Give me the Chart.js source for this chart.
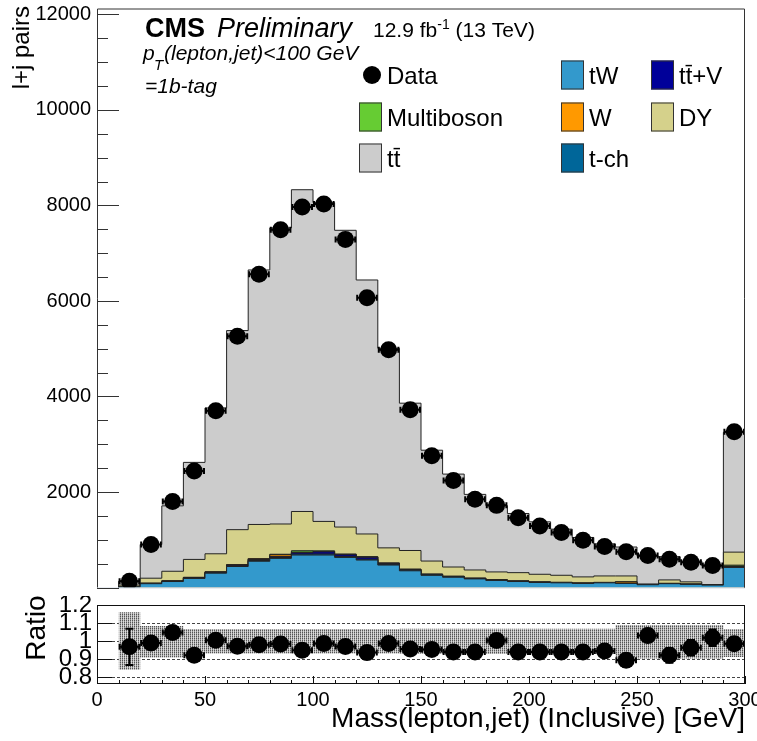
<!DOCTYPE html>
<html>
<head>
<meta charset="utf-8">
<script src="https://cdn.jsdelivr.net/npm/chart.js@4.4.1/dist/chart.umd.min.js"></script>
<style>
  html, body { margin: 0; padding: 0; background: #fff; }
  #wrap { position: relative; width: 757px; height: 741px; overflow: hidden; }
  #main { position: absolute; left: 0; top: 0; }
  #ratio { position: absolute; left: 0; top: 596px; }
</style>
</head>
<body>
<div id="wrap">
  <canvas id="main" width="757" height="596"></canvas>
  <canvas id="ratio" width="757" height="145"></canvas>
</div>
<script>
// bins (lower edges, GeV) - last bin holds the overflow
const binLow = [10, 20, 30, 40, 50, 60, 70, 80, 90, 100, 110, 120, 130, 140, 150, 160, 170, 180, 190, 200, 210, 220, 230, 240, 250, 260, 270, 280, 290];
const binWidth = 10;

const dataObs = [130, 900, 1800, 2440, 3700, 5260, 6560, 7490, 7970, 8030, 7290, 6070, 4980, 3720, 2760, 2240, 1850, 1720, 1460, 1290, 1150, 990, 860, 750, 670, 590, 530, 460, 3260];

// MC stack, bottom to top
const tW = [15, 80, 125, 190, 300, 440, 550, 610, 680, 680, 630, 575, 470, 350, 255, 215, 180, 148, 125, 105, 98, 85, 98, 85, 58, 80, 65, 50, 420];
const tChan = [2, 4, 6, 8, 10, 12, 15, 18, 20, 22, 20, 18, 15, 12, 10, 8, 6, 5, 5, 4, 4, 3, 3, 3, 2, 2, 2, 2, 10];
const ttV = [1, 3, 5, 8, 10, 15, 20, 25, 30, 45, 35, 40, 20, 15, 10, 8, 6, 5, 4, 4, 3, 3, 3, 2, 2, 2, 2, 1, 10];
const wJets = [1, 2, 3, 5, 8, 10, 15, 35, 10, 10, 8, 6, 5, 4, 3, 3, 2, 2, 2, 2, 2, 2, 2, 30, 2, 2, 2, 2, 8];
const multiboson = [0, 1, 1, 2, 3, 4, 6, 8, 30, 10, 8, 6, 4, 3, 3, 2, 2, 2, 2, 1, 1, 1, 1, 1, 1, 1, 1, 1, 20];
const dy = [31, 105, 200, 375, 375, 730, 714, 634, 822, 617, 565, 476, 316, 391, 273, 193, 171, 164, 173, 161, 148, 128, 135, 121, 7, 72, 46, 1, 273];
const ttbar = [83, 705, 1370, 2032, 3054, 4169, 5330, 6200, 6738, 6676, 6214, 5319, 4180, 3085, 2321, 1946, 1583, 1389, 1239, 1098, 966, 826, 670, 606, 582, 484, 435, 396, 2509];

// ratio pad
const ratioVal = [0.969, 0.99, 1.048, 0.923, 1.005, 0.972, 0.98, 0.985, 0.95, 0.988, 0.971, 0.937, 0.987, 0.957, 0.954, 0.94, 0.94, 1.004, 0.94, 0.94, 0.94, 0.94, 0.946, 0.895, 1.032, 0.922, 0.964, 1.019, 0.986];
const ratioErr = [0.1, 0.035, 0.025, 0.02, 0.017, 0.014, 0.012, 0.012, 0.011, 0.011, 0.012, 0.013, 0.014, 0.016, 0.019, 0.021, 0.023, 0.024, 0.026, 0.028, 0.029, 0.032, 0.034, 0.036, 0.038, 0.041, 0.043, 0.046, 0.018];
const bandUp = [1.161, 1.085, 1.085, 1.068, 1.068, 1.068, 1.068, 1.068, 1.068, 1.068, 1.068, 1.068, 1.068, 1.07, 1.07, 1.07, 1.07, 1.07, 1.07, 1.07, 1.07, 1.07, 1.07, 1.09, 1.09, 1.09, 1.09, 1.09, 1.068];
const bandDown = [0.842, 0.91, 0.91, 0.932, 0.932, 0.932, 0.932, 0.932, 0.932, 0.932, 0.932, 0.932, 0.932, 0.93, 0.93, 0.93, 0.93, 0.93, 0.93, 0.93, 0.93, 0.93, 0.93, 0.905, 0.905, 0.905, 0.905, 0.905, 0.913];

// tick labels
const yTicksMain = [2000, 4000, 6000, 8000, 10000, 12000];
const xTicks = [0, 50, 100, 150, 200, 250, 300];
const ratioTicks = [0.8, 0.9, 1, 1.1, 1.2];

const FONT = '"Liberation Sans", Arial, Helvetica, sans-serif';

const layers = [
  { label: 'tW', values: tW, color: '#3399cc' },
  { label: 't-ch', values: tChan, color: '#006699' },
  { label: 'tt\u0304+V', values: ttV, color: '#000099' },
  { label: 'W', values: wJets, color: '#ff9900' },
  { label: 'Multiboson', values: multiboson, color: '#66cc33' },
  { label: 'DY', values: dy, color: '#d5d18b' },
  { label: 'tt\u0304', values: ttbar, color: '#cccccc' }
];

// histogram outline as stepped points on the bin edges
function stepPoints(vals, closeDown) {
  const last = binLow.length - 1;
  const pts = [{ x: binLow[0], y: closeDown ? 0 : vals[0] }];
  vals.forEach((v, i) => pts.push({ x: binLow[i], y: v }));
  pts.push({ x: binLow[last] + binWidth, y: vals[last] });
  if (closeDown) pts.push({ x: binLow[last] + binWidth, y: 0 });
  return pts;
}

let running = binLow.map(() => 0);
const stackSets = layers.map(l => {
  running = running.map((r, i) => r + l.values[i]);
  return {
    label: l.label,
    data: stepPoints(running, true),
    stepped: 'before',
    fill: 'origin',
    backgroundColor: l.color,
    borderColor: '#222',
    borderWidth: 1,
    pointRadius: 0
  };
});

function centers(vals) {
  return binLow.map((b, i) => ({ x: b + binWidth / 2, y: vals[i] }));
}

function hatchPattern() {
  const c = document.createElement('canvas');
  c.width = 2; c.height = 2;
  const g = c.getContext('2d');
  g.fillStyle = '#555555'; g.fillRect(0, 0, 1, 1);
  g.fillStyle = '#cccccc'; g.fillRect(1, 0, 1, 1);
  g.fillStyle = '#999999'; g.fillRect(0, 1, 1, 1);
  g.fillStyle = '#dddddd'; g.fillRect(1, 1, 1, 1);
  return g.createPattern(c, 'repeat');
}

// horizontal bin-width bars with end caps (+ optional vertical errors), under the markers
const errorBars = {
  id: 'errorBars',
  beforeDatasetDraw(chart, args) {
    if (args.index !== 0) return;
    const ds = chart.data.datasets[0];
    const { ctx, scales: { x, y } } = chart;
    ctx.save();
    ctx.strokeStyle = '#000';
    ctx.lineWidth = 2;
    ds.data.forEach((p, i) => {
      const xl = x.getPixelForValue(p.x - binWidth / 2);
      const xr = x.getPixelForValue(p.x + binWidth / 2);
      const xc = x.getPixelForValue(p.x);
      const yc = y.getPixelForValue(p.y);
      ctx.beginPath();
      ctx.moveTo(xl, yc); ctx.lineTo(xr, yc);
      ctx.moveTo(xl + 1, yc - 3); ctx.lineTo(xl + 1, yc + 3);
      ctx.moveTo(xr - 1, yc - 3); ctx.lineTo(xr - 1, yc + 3);
      if (ds.errY) {
        const yt = y.getPixelForValue(p.y + ds.errY[i]);
        const yb = y.getPixelForValue(p.y - ds.errY[i]);
        ctx.moveTo(xc, yt); ctx.lineTo(xc, yb);
        ctx.moveTo(xc - 4, yt); ctx.lineTo(xc + 4, yt);
        ctx.moveTo(xc - 4, yb); ctx.lineTo(xc + 4, yb);
      }
      ctx.stroke();
    });
    ctx.restore();
  }
};

function hline(ctx, x1, x2, y) { ctx.beginPath(); ctx.moveTo(x1, y); ctx.lineTo(x2, y); ctx.stroke(); }
function vline(ctx, x, y1, y2) { ctx.beginPath(); ctx.moveTo(x, y1); ctx.lineTo(x, y2); ctx.stroke(); }

const mainDecor = {
  id: 'mainDecor',
  afterDraw(chart) {
    const { ctx, chartArea: a, scales: { y } } = chart;
    ctx.save();
    // frame
    ctx.lineWidth = 1;
    ctx.strokeStyle = '#d4dce6';
    hline(ctx, a.left, a.right, a.bottom + 0.5);
    ctx.strokeStyle = '#333';
    ctx.beginPath();
    ctx.moveTo(a.left + 0.5, a.bottom);
    ctx.lineTo(a.left + 0.5, a.top + 0.5);
    ctx.lineTo(a.right - 0.5, a.top + 0.5);
    ctx.lineTo(a.right - 0.5, a.bottom);
    ctx.stroke();
    // y ticks, inward
    for (let v = 0; v <= 12000; v += 500) {
      const py = Math.round(y.getPixelForValue(v)) + 0.5;
      hline(ctx, a.left, a.left + (v % 2000 === 0 ? 22 : 11), py);
    }
    // y title
    ctx.fillStyle = '#000';
    ctx.save();
    ctx.translate(29, 6);
    ctx.rotate(-Math.PI / 2);
    ctx.textAlign = 'right';
    ctx.font = '24px ' + FONT;
    ctx.fillText('l+j pairs', 0, 0);
    ctx.restore();

    // CMS label
    ctx.textAlign = 'left';
    ctx.textBaseline = 'alphabetic';
    ctx.font = 'bold 27px ' + FONT;
    ctx.fillText('CMS', 145, 37);
    ctx.font = 'italic 27px ' + FONT;
    ctx.fillText('Preliminary', 217, 37);
    let tx = 373;
    ctx.font = '21px ' + FONT;
    ctx.fillText('12.9 fb', tx, 37);
    tx += ctx.measureText('12.9 fb').width;
    ctx.font = '14px ' + FONT;
    ctx.fillText('-1', tx, 29);
    tx += ctx.measureText('-1').width;
    ctx.font = '21px ' + FONT;
    ctx.fillText(' (13 TeV)', tx, 37);

    ctx.font = 'italic 21px ' + FONT;
    ctx.fillText('p', 143, 60);
    ctx.font = 'italic 15px ' + FONT;
    ctx.fillText('T', 154, 70);
    ctx.font = 'italic 21px ' + FONT;
    ctx.fillText('(lepton,jet)<100 GeV', 164, 60);
    ctx.fillText('=1b-tag', 145, 93);

    // legend (3 columns)
    const legend = [
      { text: 'Data', col: 0, row: 0, marker: true },
      { text: 'tW', col: 1, row: 0, color: layers[0].color },
      { text: 'tt\u0304+V', col: 2, row: 0, color: layers[2].color },
      { text: 'Multiboson', col: 0, row: 1, color: layers[4].color },
      { text: 'W', col: 1, row: 1, color: layers[3].color },
      { text: 'DY', col: 2, row: 1, color: layers[5].color },
      { text: 'tt\u0304', col: 0, row: 2, color: layers[6].color },
      { text: 't-ch', col: 1, row: 2, color: layers[1].color }
    ];
    const colX = [359, 561, 651];
    const rowY = [75, 117, 158];
    ctx.font = '24px ' + FONT;
    ctx.textBaseline = 'middle';
    legend.forEach(e => {
      const bx = colX[e.col], cy = rowY[e.row];
      if (e.marker) {
        ctx.fillStyle = '#000';
        ctx.beginPath();
        ctx.arc(bx + 13, cy, 9, 0, Math.PI * 2);
        ctx.fill();
      } else {
        ctx.fillStyle = e.color;
        ctx.fillRect(bx, cy - 14.5, 23, 29);
        ctx.strokeStyle = '#333';
        ctx.strokeRect(bx + 0.5, cy - 14, 22, 28);
      }
      ctx.fillStyle = '#000';
      ctx.fillText(e.text, bx + 28, cy + 2);
    });
    ctx.restore();
  }
};

const ratioDecor = {
  id: 'ratioDecor',
  beforeDatasetsDraw(chart) {
    const { ctx, chartArea: a, scales: { y } } = chart;
    ctx.save();
    ctx.strokeStyle = '#444';
    ctx.lineWidth = 1;
    ctx.setLineDash([3, 2]);
    ratioTicks.forEach(v => hline(ctx, a.left, a.right, Math.round(y.getPixelForValue(v)) + 0.5));
    ctx.restore();
  },
  afterDraw(chart) {
    const { ctx, chartArea: a, scales: { x, y } } = chart;
    ctx.save();
    ctx.strokeStyle = '#111';
    ctx.lineWidth = 1;
    ctx.strokeRect(a.left + 0.5, a.top + 0.5, a.right - a.left - 1, a.bottom - a.top - 1);
    for (let v = 0; v <= 300; v += 10) {
      const px = Math.round(x.getPixelForValue(v)) + 0.5;
      vline(ctx, px, a.bottom, a.bottom - (v % 50 === 0 ? 8 : 4));
    }
    ratioTicks.forEach(v => hline(ctx, a.left, a.left + 15, Math.round(y.getPixelForValue(v)) + 0.5));

    ctx.fillStyle = '#000';
    ctx.save();
    ctx.translate(45, 32);
    ctx.rotate(-Math.PI / 2);
    ctx.textAlign = 'center';
    ctx.font = '28px ' + FONT;
    ctx.fillText('Ratio', 0, 0);
    ctx.restore();

    ctx.textAlign = 'right';
    ctx.font = '28px ' + FONT;
    ctx.fillText('Mass(lepton,jet) (Inclusive) [GeV]', a.right, 131);
    ctx.restore();
  }
};

function fixedAxis(size, horizontal) {
  return scale => {
    if (horizontal) scale.height = size; else scale.width = size;
    scale.paddingTop = 0; scale.paddingBottom = 0;
    scale.paddingLeft = 0; scale.paddingRight = 0;
  };
}

const common = {
  responsive: false,
  animation: false,
  events: [],
  plugins: { legend: { display: false }, tooltip: { enabled: false } }
};

new Chart(document.getElementById('main'), {
  type: 'line',
  data: {
    datasets: [
      {
        label: 'Data',
        data: centers(dataObs),
        showLine: false,
        pointRadius: 8.5,
        pointBackgroundColor: '#000',
        pointBorderColor: '#000',
        pointBorderWidth: 0
      },
      ...stackSets
    ]
  },
  options: {
    ...common,
    layout: { padding: { left: 0, top: 6, right: 12, bottom: 6 } },
    scales: {
      x: { type: 'linear', min: 0, max: 300, display: false },
      y: {
        type: 'linear', min: 0, max: 12125,
        grid: { display: false, drawTicks: false },
        border: { display: false },
        afterBuildTicks: s => { s.ticks = yTicksMain.map(v => ({ value: v })); },
        afterFit: fixedAxis(97, false),
        ticks: {
          autoSkip: false, padding: 6, color: '#000',
          font: { family: FONT, size: 20 },
          callback: v => String(v)
        }
      }
    }
  },
  plugins: [errorBars, mainDecor]
});

new Chart(document.getElementById('ratio'), {
  type: 'line',
  data: {
    datasets: [
      {
        label: 'Data/MC',
        data: centers(ratioVal),
        errY: ratioErr,
        showLine: false,
        pointRadius: 8.5,
        pointBackgroundColor: '#000',
        pointBorderColor: '#000',
        pointBorderWidth: 0
      },
      {
        label: 'unc up',
        data: stepPoints(bandUp, false),
        stepped: 'before',
        fill: '+1',
        backgroundColor: hatchPattern(),
        borderWidth: 0,
        borderColor: 'rgba(0,0,0,0)',
        pointRadius: 0
      },
      {
        label: 'unc down',
        data: stepPoints(bandDown, false),
        stepped: 'before',
        fill: false,
        borderWidth: 0,
        borderColor: 'rgba(0,0,0,0)',
        pointRadius: 0
      }
    ]
  },
  options: {
    ...common,
    layout: { padding: { left: 0, top: 9, right: 12, bottom: 0 } },
    scales: {
      x: {
        type: 'linear', min: 0, max: 300,
        grid: { display: false, drawTicks: false },
        border: { display: false },
        afterBuildTicks: s => { s.ticks = xTicks.map(v => ({ value: v })); },
        afterFit: fixedAxis(57, true),
        ticks: {
          autoSkip: false, maxRotation: 0, padding: 4, color: '#000',
          font: { family: FONT, size: 20 },
          callback: v => String(v)
        }
      },
      y: {
        type: 'linear', min: 0.763, max: 1.201,
        grid: { display: false, drawTicks: false },
        border: { display: false },
        afterBuildTicks: s => { s.ticks = ratioTicks.map(v => ({ value: v })); },
        afterFit: fixedAxis(97, false),
        ticks: {
          autoSkip: false, padding: 5, color: '#000',
          font: { family: FONT, size: 24 },
          callback: v => String(+v.toFixed(2))
        }
      }
    }
  },
  plugins: [errorBars, ratioDecor]
});
</script>
</body>
</html>
